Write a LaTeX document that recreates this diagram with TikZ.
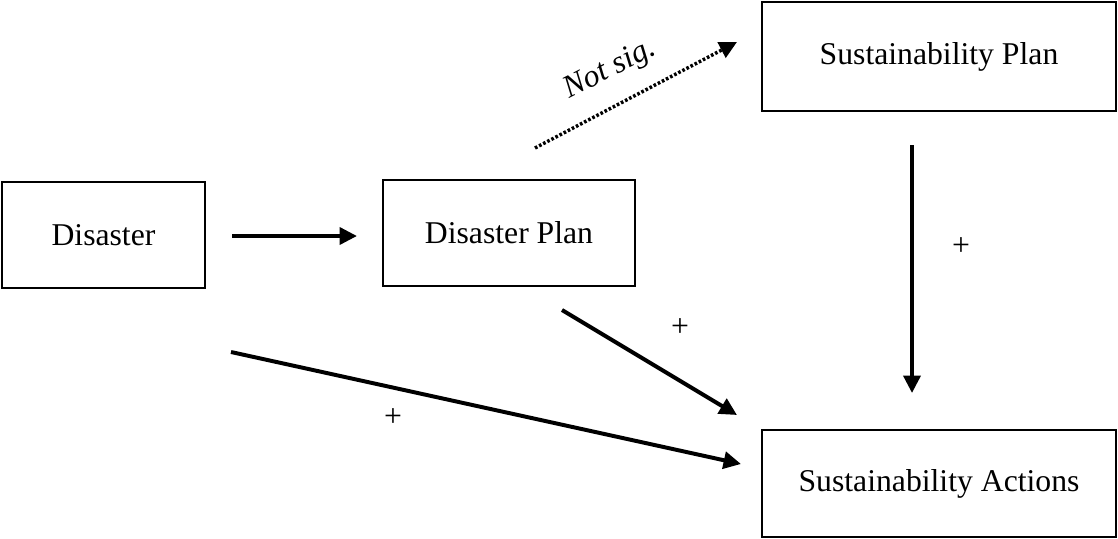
\documentclass[tikz,border=0pt]{standalone}
\usepackage{fontspec}
\setmainfont{Liberation Serif}
\usetikzlibrary{arrows.meta}

\begin{document}
\begin{tikzpicture}[x=0.0133cm,y=-0.0133cm]
  \tikzset{ box/.style={draw,line width=1.1pt,inner sep=0pt,font=\fontsize{12pt}{14pt}\selectfont},
    arr/.style={line width=1.5pt,-{Triangle[length=6.6pt,width=6.4pt]}},
    lbl/.style={font=\fontsize{12pt}{14pt}\selectfont},
  }
  \useasboundingbox (0,0) rectangle (1118,538);

  \node[box,minimum width=203*0.0133cm,minimum height=106*0.0133cm] (D)  at (103.5,235) {Disaster};
  \node[box,minimum width=252*0.0133cm,minimum height=106*0.0133cm] (DP) at (509,233)   {Disaster Plan};
  \node[box,minimum width=354*0.0133cm,minimum height=109*0.0133cm] (SP) at (939,56.5)  {Sustainability Plan};
  \node[box,minimum width=354*0.0133cm,minimum height=107*0.0133cm] (SA) at (939,483.5) {Sustainability Actions};

  % ends of the arrows
  \coordinate (a1) at (232,236); \coordinate (a2) at (357,236);
  \coordinate (b1) at (535,148); \coordinate (b2) at (737,42);
  \coordinate (c1) at (912,145); \coordinate (c2) at (912,393);
  \coordinate (d1) at (562,310); \coordinate (d2) at (737,415);
  \coordinate (e1) at (231,352); \coordinate (e2) at (741,464);

  % the connection between the boxes
  \draw[arr] (a1) to (a2);
  \draw[arr,line width=1.3pt,dash pattern=on 1pt off 0.75pt] (b1) to (b2);
  \draw[arr] (c1) to (c2);
  \draw[arr] (d1) to (d2);
  \draw[arr] (e1) to (e2);

  \node[lbl,rotate=27] (ns) at (610,70)  {\itshape Not sig.};
  \node[lbl] (p1) at (961,247) {+};
  \node[lbl] (p2) at (680,328) {+};
  \node[lbl] (p3) at (393,418) {+};
\end{tikzpicture}
\end{document}
